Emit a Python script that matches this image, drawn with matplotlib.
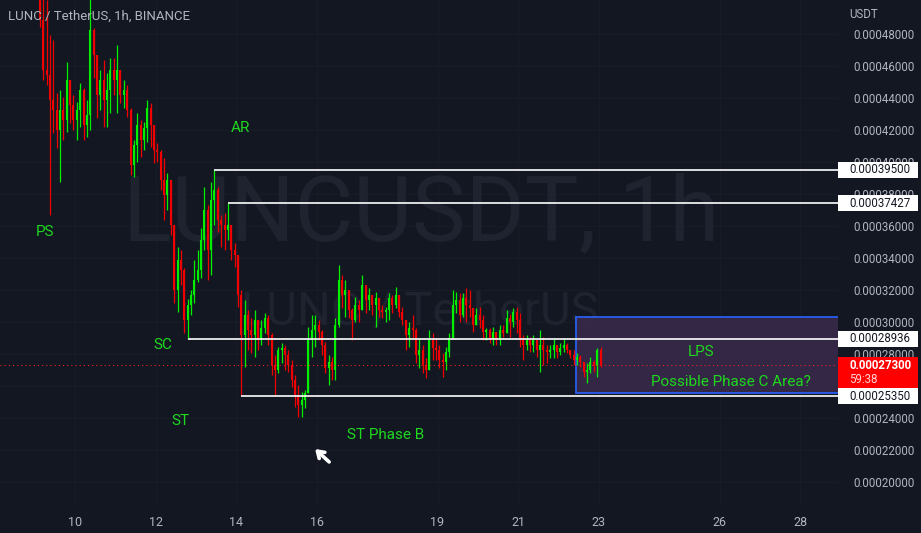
import numpy as np
import matplotlib
matplotlib.use("Agg")
import matplotlib.pyplot as plt
from matplotlib.patches import Rectangle
from matplotlib.transforms import blended_transform_factory
from matplotlib.ticker import FuncFormatter

plt.rcParams['font.family'] = ['Roboto', 'DejaVu Sans']

# ---------------- data (prices in micro-USDT, i.e. x 1e-6 USDT), 2h candles ----------------
first_open = 520.0
highs = [526, 507.5, 501, 479.5, 476, 443, 445, 440.5, 462.5, 451, 442, 437.5, 449.5, 446, 439,
         504.5, 484, 465.5, 457.5, 464, 455.5, 465, 465, 473, 454.5, 451, 448, 434, 414, 430.5,
         426, 425, 439, 437, 415.5, 412, 407.5, 402.5, 393, 389, 360.5, 347, 345, 334, 314.5,
         320, 339, 345, 359, 384.5, 373, 387.5, 395, 384.5, 367, 368, 374.27, 360.5, 349.5, 342,
         320, 314, 307.5, 302.5, 307.5, 300, 301, 305.5, 304.5, 293, 279.5, 284.5, 287, 285.5, 282.5,
         276, 267, 260.5, 256, 257.5, 297, 304.5, 304.5, 301, 295, 287.5, 279.5, 278, 302.5, 335.5,
         329.5, 326, 320, 308.5, 315.5, 314, 329.5, 323, 321, 317, 319, 315, 310.5, 309.5, 318,
         317, 322, 315, 309.5, 300, 300, 304.5, 296, 290, 285.5, 277.5, 295, 293, 290, 285.5,
         280.5, 284.5, 293, 320, 319, 318, 318, 321, 320, 308.5, 308.5, 309.5, 304.5, 296, 296,
         297, 294, 298, 298, 307.5, 305, 308.5, 309.5, 305.5, 292, 292, 290.5, 292, 289, 295,
         290.5, 285.5, 285.5, 290, 285.5, 287, 290, 287, 282.5, 282.5, 280.5, 279.5, 275, 274.5, 278,
         276, 284, 284.5]
lows = [484.5, 451, 448, 367, 418, 409, 387.5, 414, 419, 424.5, 420, 414, 422, 414, 415.5,
        420, 452.5, 427.5, 432.5, 422, 422, 430.5, 442, 430.5, 437, 434, 428, 392, 390.5, 400,
        403, 407.5, 412.5, 409.5, 399.5, 400, 382.5, 364, 370, 354.5, 312, 306, 323, 293, 289.36,
        304.5, 312, 325, 327.5, 345, 326, 329.5, 360.5, 356, 347, 345, 351, 339, 334.5, 309.5,
        253.5, 272, 282.5, 280.5, 278, 282.5, 285.5, 293, 285.5, 267, 254, 268, 274.5, 270, 269,
        259.5, 247, 240.5, 240.5, 246, 255.5, 278, 284.5, 289, 279.5, 268, 260.5, 264, 264, 297,
        308.5, 303, 302.5, 289, 300, 300, 308.5, 305.5, 307.5, 304.5, 297, 303, 302.5, 300, 301,
        305.5, 308.5, 303, 298, 282.5, 284.5, 290, 274.5, 271, 268, 265, 270, 276, 276, 271,
        265.5, 270, 278, 290.5, 305.5, 300, 303, 300, 303, 294, 298, 296, 289, 289, 287,
        285.5, 285.5, 285.5, 290.5, 293, 290.5, 297, 293, 284.5, 276, 282.5, 281, 281, 278, 269,
        273, 274.5, 277.5, 277.5, 277.5, 279.5, 281, 280.5, 277.5, 273, 273, 272, 265.5, 262, 268,
        269, 265.5, 272]
closes = [489, 457.5, 454.5, 439, 432.5, 420, 432.5, 426, 451, 435.5, 426, 432.5, 445, 423, 429.5,
          482.5, 467, 442, 451, 439, 445, 457.5, 451, 457.5, 442, 445, 432.5, 398, 410.5, 423,
          414, 421, 434, 423, 407.5, 406, 389, 379.5, 389, 360.5, 320, 339, 332.5, 301, 310.5,
          317, 326, 332.5, 351, 370, 345, 376, 382.5, 364, 360.5, 357.5, 360.5, 345, 342, 317,
          292, 304.5, 295, 292, 301, 289, 296, 302.5, 292, 273, 270, 282.5, 284, 279.5, 273,
          264, 254.5, 248, 251, 255.5, 289, 295, 298, 294, 285.5, 271, 275, 270, 298, 326,
          317, 320, 307.5, 301, 310.5, 307.5, 323, 314, 317, 310.5, 315, 307.5, 306, 307.5, 315,
          310.5, 317, 306, 301, 292, 296, 295, 279.5, 282.5, 273, 270, 289, 284, 282.5, 276,
          275, 281, 290, 310.5, 314, 304.5, 315, 310.5, 308.5, 298, 304.5, 301, 294, 295, 290,
          294, 289, 295, 293, 302.5, 300, 306, 301, 289, 285.5, 289, 285.5, 289, 282.5, 285.5,
          282.5, 281, 282.5, 285.5, 281, 284, 285.5, 282.5, 279.5, 276, 278, 275, 269, 270, 275,
          272.5, 282.5, 273]
start_day = 9.13          # day-of-month of first candle
candle_hours = 2

day_ticks = [10, 12, 14, 16, 19, 21, 23, 26, 28]
price_ticks = [0.00020, 0.00022, 0.00024, 0.00026, 0.00028, 0.00030, 0.00032, 0.00034,
               0.00036, 0.00038, 0.00040, 0.00042, 0.00044, 0.00046, 0.00048]
hidden_price_ticks = [0.00026]   # fully covered by the price labels in the reference

level_prices = [0.000395, 0.00037427, 0.00028936, 0.0002535]
level_start_candle = [52, 56, 44, 60]
last_price = 0.000273
countdown = "59:38"

zone_start_day = 22.44
zone_top = 0.0003031
zone_bottom = 0.0002556

labels = [("PS", 9.26, 0.000356), ("AR", 14.10, 0.000421), ("SC", 12.18, 0.0002856),
          ("ST", 12.61, 0.0002381), ("ST Phase B", 17.72, 0.0002294),
          ("LPS", 25.54, 0.0002812), ("Possible Phase C Area?", 26.29, 0.0002625)]
arrow_tip = (15.96, 0.0002206)
arrow_tail = (16.31, 0.0002125)

# ---------------- style ----------------
BG = '#131722'
TXT = '#b2b5be'
UP = '#00f000'
DN = '#f00000'
LBL = '#1ed91e'

W, H = 921, 533
fig = plt.figure(figsize=(W / 100, H / 100), dpi=100, facecolor=BG)
ax_w_px, ax_h_px = 838, 505
ax = fig.add_axes([0, (H - ax_h_px) / H, ax_w_px / W, ax_h_px / H])
ax.set_facecolor(BG)
for s in ax.spines.values():
    s.set_visible(False)

xmin, xmax = 8.14, 28.94
ymin, ymax = 0.0001856, 0.00050125
ax.set_xlim(xmin, xmax)
ax.set_ylim(ymin, ymax)
px_per_unit = ax_h_px / (ymax - ymin)

# grid
for d in day_ticks:
    ax.axvline(d, color='#181c27', lw=0.8, zorder=0)
for p in price_ticks:
    ax.axhline(p, color='#181c27', lw=0.8, zorder=0)

# watermark
ax.text(0.5024, 1 - 240 / ax_h_px, "LUNCUSDT, 1h", transform=ax.transAxes, ha='center',
        va='baseline', fontsize=65, color='#1f2330', zorder=0.5)
ax.text(0.501, 1 - 325 / ax_h_px, "LUNC / TetherUS", transform=ax.transAxes, ha='center',
        va='baseline', fontsize=34, color='#1f2330', zorder=0.5)

# candles
hi = np.array(highs) * 1e-6
lo = np.array(lows) * 1e-6
cl = np.array(closes) * 1e-6
op = np.concatenate([[first_open * 1e-6], cl[:-1]])
hi = np.maximum(hi, np.maximum(op, cl))
lo = np.minimum(lo, np.minimum(op, cl))
n = len(cl)
t = start_day + np.arange(n) * candle_hours / 24.0
cols = np.where(cl >= op, UP, DN)
ax.vlines(t, lo, hi, colors=cols, lw=0.9, zorder=3)
body_lo = np.minimum(op, cl)
body_hi = np.maximum(op, cl)
body_hi = np.maximum(body_hi, body_lo + 0.6 / px_per_unit)
ax.vlines(t, body_lo, body_hi, colors=cols, lw=1.5, zorder=3)

# zone rectangle
ax.add_patch(Rectangle((zone_start_day, zone_bottom), 40 - zone_start_day, zone_top - zone_bottom,
                       facecolor='#3a2a4c', edgecolor='#2962ff', lw=1.4, alpha=0.85, zorder=2))

# horizontal levels
for lvl, ci in zip(level_prices, level_start_candle):
    ax.hlines(lvl, t[ci], xmax + 1, colors='white', lw=1.2, zorder=4)

# current price line
ax.axhline(last_price, color='#ff2020', lw=0.75, ls=(0, (1, 3)), zorder=4)

# text labels
for txt, x, y in labels:
    ax.text(x, y, txt, color=LBL, fontsize=11, ha='center', va='center', zorder=6)

ax.annotate('', xy=arrow_tip, xytext=arrow_tail,
            arrowprops=dict(arrowstyle='->,head_length=0.45,head_width=0.3', lw=2.6,
                            color='white', shrinkA=0, shrinkB=0), zorder=6)

# axes ticks
ax.set_xticks(day_ticks)
ax.set_xticklabels([str(d) for d in day_ticks])
ax.tick_params(axis='x', length=0, pad=8, labelcolor=TXT, labelsize=9)
ax.yaxis.tick_right()
ax.set_yticks(price_ticks)
ax.yaxis.set_major_formatter(FuncFormatter(
    lambda v, pos: "" if any(abs(v - h) < 1e-9 for h in hidden_price_ticks) else f"{v:.8f}"))
ax.tick_params(axis='y', length=0, pad=11, labelcolor=TXT, labelsize=8.3)
for lab in ax.get_yticklabels():
    lab.set_horizontalalignment('left')

# right-hand price boxes
trans = blended_transform_factory(ax.transAxes, ax.transData)
box_w = 80 / ax_w_px
txt_x = 1 + 11 / ax_w_px
for lvl in level_prices:
    hh = 8 / px_per_unit
    ax.add_patch(Rectangle((1.0, lvl - hh), box_w, 2 * hh, transform=trans, facecolor='white',
                           edgecolor='none', clip_on=False, zorder=10))
    ax.text(txt_x, lvl, f"{lvl:.8f}", transform=trans, color='#131722', fontsize=8.3,
            ha='left', va='center', zorder=11, clip_on=False)

ax.add_patch(Rectangle((1.0, last_price - 23 / px_per_unit), box_w, 31 / px_per_unit,
                       transform=trans, facecolor='#ff0000', edgecolor='none', clip_on=False,
                       zorder=10))
ax.text(txt_x, last_price, f"{last_price:.8f}", transform=trans, color='white', fontsize=8.3,
        fontweight='bold', ha='left', va='center', zorder=11, clip_on=False)
ax.text(txt_x, last_price - 14 / px_per_unit, countdown, transform=trans, color='#ffd6d6',
        fontsize=8.3, ha='left', va='center', zorder=11, clip_on=False)

# titles
fig.text(8 / W, 1 - 16 / H, "LUNC / TetherUS, 1h, BINANCE", color=TXT, fontsize=9.5,
         ha='left', va='center')
fig.text(849 / W, 1 - 14 / H, "USDT", color=TXT, fontsize=8.3, ha='left', va='center')

fig.savefig("out.png", dpi=100, facecolor=BG)
